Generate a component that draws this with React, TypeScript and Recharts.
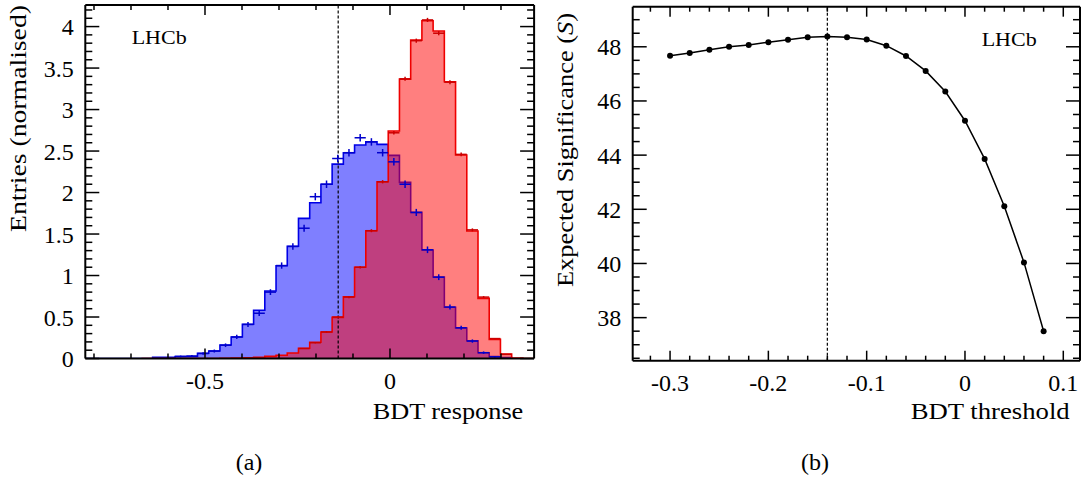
import React from 'react';
import { ComposedChart, Area, Scatter, ErrorBar, Line, XAxis, YAxis, ReferenceLine } from 'recharts';

const FONT = "'Liberation Serif', 'Times New Roman', serif";
const INK = '#000';

// ---------------- panel (a): BDT response ----------------
const histMin = -0.8235;
const histMax = 0.3895;
const histYMax = 4.26;
const cutValue = -0.14;

// training-sample histograms (normalised), 40 bins
const backgroundHist = [
  0, 0, 0, 0, 0, 0, 0.015, 0.015, 0.025, 0.025,
  0.063, 0.09, 0.163, 0.259, 0.412, 0.581, 0.813, 1.118, 1.352, 1.689,
  1.877, 2.099, 2.343, 2.48, 2.572, 2.612, 2.581, 2.448, 2.123, 1.761,
  1.307, 0.982, 0.617, 0.367, 0.214, 0.07, 0.022, 0.012, 0, null,
];
const signalHist = [
  null, null, null, null, null, 0, 0, 0, 0, 0,
  0, 0, 0.003, 0.005, 0.008, 0.015, 0.026, 0.04, 0.066, 0.123,
  0.195, 0.319, 0.496, 0.745, 1.099, 1.54, 2.13, 2.741, 3.367, 3.837,
  4.07, 3.946, 3.335, 2.452, 1.536, 0.725, 0.231, 0.054, 0.004, 0,
];
// test-sample points (crosses)
const backgroundTest = [
  null, null, null, null, null, null, null, null, 0.025, 0.03,
  0.06, 0.09, 0.16, 0.26, 0.41, 0.545, 0.8, 1.12, 1.35, 1.57,
  1.95, 2.1, 2.41, 2.48, 2.66, 2.61, 2.48, 2.37, 2.1, 1.76,
  1.31, 0.98, 0.62, 0.37, 0.21, 0.07, 0.02, null, null, null,
];
const backgroundTestErr = [
  0, 0, 0, 0, 0, 0, 0, 0, 0.01, 0.012,
  0.015, 0.018, 0.022, 0.025, 0.03, 0.032, 0.035, 0.038, 0.04, 0.042,
  0.044, 0.045, 0.045, 0.045, 0.045, 0.045, 0.045, 0.045, 0.045, 0.043,
  0.04, 0.035, 0.03, 0.025, 0.02, 0.015, 0.01, 0, 0, 0,
];
const signalTest = [
  null, null, null, null, null, null, null, null, null, null,
  null, null, null, null, null, null, null, null, null, 0.12,
  0.19, 0.32, 0.5, 0.74, 1.1, 1.54, 2.13, 2.72, 3.37, 3.83,
  4.08, 3.92, 3.33, 2.46, 1.55, 0.74, 0.24, 0.05, null, null,
];
const signalTestErr = [
  0, 0, 0, 0, 0, 0, 0, 0, 0, 0,
  0, 0, 0, 0, 0, 0, 0, 0, 0, 0.006,
  0.008, 0.01, 0.012, 0.014, 0.016, 0.018, 0.02, 0.022, 0.024, 0.025,
  0.025, 0.025, 0.024, 0.022, 0.018, 0.012, 0.008, 0.005, 0, 0,
];
const aXMajor = [-0.5, 0];
const aYMajor = [0, 0.5, 1, 1.5, 2, 2.5, 3, 3.5, 4];

// ---------------- panel (b): significance scan ----------------
const thresholds = [-0.3, -0.28, -0.26, -0.24, -0.22, -0.2, -0.18, -0.16, -0.14, -0.12,
  -0.1, -0.08, -0.06, -0.04, -0.02, 0, 0.02, 0.04, 0.06, 0.08];
const significance = [47.67, 47.77, 47.89, 48.0, 48.07, 48.17, 48.26, 48.35, 48.38, 48.35,
  48.27, 48.04, 47.66, 47.11, 46.35, 45.27, 43.86, 42.11, 40.04, 37.5];
const bXDomain = [-0.338, 0.117];
const bYDomain = [36.41, 49.48];
const bXMajor = [-0.3, -0.2, -0.1, 0, 0.1];
const bYMajor = [38, 40, 42, 44, 46, 48];

// ---------------- helpers ----------------
const range = (start: number, end: number, step: number) => {
  const out: number[] = [];
  const n = Math.round((end - start) / step);
  for (let k = 0; k <= n; k++) out.push(Math.round((start + k * step) * 1e6) / 1e6);
  return out;
};
const aXTicks = range(-0.8, 0.3, 0.1);
const aYTicks = range(0, 4.2, 0.1);
const bXTicks = range(-0.32, 0.1, 0.02);
const bYTicks = range(36.5, 49, 0.5);

const nBins = backgroundHist.length;
const binWidth = (histMax - histMin) / nBins;
const histRows = Array.from({ length: nBins + 1 }, (_, i) => {
  const j = Math.min(i, nBins - 1);
  return { x: histMin + i * binWidth, bkg: backgroundHist[j], sig: signalHist[j] };
});
const crossRows = (vals: (number | null)[], errs: number[]) =>
  vals
    .map((v, i) => (v == null ? null : { x: histMin + (i + 0.5) * binWidth, y: v, xerr: binWidth / 2, yerr: errs[i] }))
    .filter(Boolean) as any[];
const bkgCrosses = crossRows(backgroundTest, backgroundTestErr);
const sigCrosses = crossRows(signalTest, signalTestErr);
const scanRows = thresholds.map((t, i) => ({ thr: t, sig: significance[i] }));

const fmt = (v: number) => String(parseFloat(v.toFixed(2)));

type Side = 'bottom' | 'top' | 'left' | 'right';
const makeTick = (side: Side, majors: number[], majorLen: number, minorLen: number, labels: boolean) =>
  (props: any) => {
    const { x, y, payload } = props;
    const v = payload.value as number;
    const isMajor = majors.some((m) => Math.abs(m - v) < 1e-6);
    const len = isMajor ? majorLen : minorLen;
    let x2 = x;
    let y2 = y;
    if (side === 'bottom') y2 = y - len;
    if (side === 'top') y2 = y + len;
    if (side === 'left') x2 = x + len;
    if (side === 'right') x2 = x - len;
    let label = null;
    if (labels && isMajor) {
      if (side === 'bottom')
        label = (
          <text x={x} y={y + 30.5} textAnchor="middle" style={{ fontFamily: FONT }} fontSize={24} fill={INK}>
            {fmt(v)}
          </text>
        );
      if (side === 'left')
        label = (
          <text x={x - 11.5} y={y + 8.5} textAnchor="end" style={{ fontFamily: FONT }} fontSize={24} fill={INK}>
            {fmt(v)}
          </text>
        );
    }
    return (
      <g>
        <line x1={x} y1={y} x2={x2} y2={y2} stroke={INK} strokeWidth={1.5} />
        {label}
      </g>
    );
  };

const axisLine = { stroke: INK, strokeWidth: 2 };
const commonAxis = {
  type: 'number' as const,
  allowDataOverflow: true,
  tickLine: false,
  tickSize: 0,
  tickMargin: 0,
  interval: 0 as const,
  axisLine,
};

function PanelA() {
  return (
    <ComposedChart width={545} height={480} data={histRows}
      margin={{ top: 4, right: 9.9, bottom: 120.5, left: 84.3 }}>
      <Area xAxisId="b" yAxisId="l" type="stepAfter" dataKey="bkg" stroke="#0000e6" strokeWidth={1.6}
        fill="#0000ff" fillOpacity={0.5} isAnimationActive={false} dot={false} activeDot={false} />
      <Area xAxisId="b" yAxisId="l" type="stepAfter" dataKey="sig" stroke="#ee0000" strokeWidth={1.6}
        fill="#ff0000" fillOpacity={0.5} isAnimationActive={false} dot={false} activeDot={false} />
      <ReferenceLine xAxisId="b" yAxisId="l" x={cutValue} stroke={INK} strokeWidth={1.2} strokeDasharray="3 2" />
      <Scatter xAxisId="b" yAxisId="l" data={bkgCrosses} dataKey="y" isAnimationActive={false} shape={() => <g />}>
        <ErrorBar dataKey="xerr" direction="x" width={0} stroke="#0000cc" strokeWidth={1.5} isAnimationActive={false} />
        <ErrorBar dataKey="yerr" direction="y" width={0} stroke="#0000cc" strokeWidth={1.5} isAnimationActive={false} />
      </Scatter>
      <Scatter xAxisId="b" yAxisId="l" data={sigCrosses} dataKey="y" isAnimationActive={false} shape={() => <g />}>
        <ErrorBar dataKey="xerr" direction="x" width={0} stroke="#cc0000" strokeWidth={1.5} isAnimationActive={false} />
        <ErrorBar dataKey="yerr" direction="y" width={0} stroke="#cc0000" strokeWidth={1.5} isAnimationActive={false} />
      </Scatter>
      <XAxis xAxisId="b" dataKey="x" orientation="bottom" domain={[histMin, histMax]} ticks={aXTicks}
        height={1} tick={makeTick('bottom', aXMajor, 10, 5, true)} {...commonAxis} />
      <XAxis xAxisId="t" dataKey="x" orientation="top" domain={[histMin, histMax]} ticks={aXTicks}
        height={1} tick={makeTick('top', aXMajor, 10, 5, false)} {...commonAxis} />
      <YAxis yAxisId="l" orientation="left" domain={[0, histYMax]} ticks={aYTicks}
        width={1} tick={makeTick('left', aYMajor, 14, 7, true)} {...commonAxis} />
      <YAxis yAxisId="r" orientation="right" domain={[0, histYMax]} ticks={aYTicks}
        width={1} tick={makeTick('right', aYMajor, 14, 7, false)} {...commonAxis} />
    </ComposedChart>
  );
}

function PanelB() {
  return (
    <ComposedChart width={539} height={480} data={scanRows}
      margin={{ top: 5.7, right: 3, bottom: 118.3, left: 86.7 }}>
      <ReferenceLine xAxisId="b" yAxisId="l" x={cutValue} stroke={INK} strokeWidth={1.2} strokeDasharray="3 2" />
      <Line xAxisId="b" yAxisId="l" type="linear" dataKey="sig" stroke={INK} strokeWidth={1.5}
        dot={{ r: 3, fill: INK, stroke: INK, strokeWidth: 0 }} activeDot={false} isAnimationActive={false} />
      <XAxis xAxisId="b" dataKey="thr" orientation="bottom" domain={bXDomain} ticks={bXTicks}
        height={1} tick={makeTick('bottom', bXMajor, 10, 5, true)} {...commonAxis} />
      <XAxis xAxisId="t" dataKey="thr" orientation="top" domain={bXDomain} ticks={bXTicks}
        height={1} tick={makeTick('top', bXMajor, 10, 5, false)} {...commonAxis} />
      <YAxis yAxisId="l" orientation="left" domain={bYDomain} ticks={bYTicks}
        width={1} tick={makeTick('left', bYMajor, 14, 7, true)} {...commonAxis} />
      <YAxis yAxisId="r" orientation="right" domain={bYDomain} ticks={bYTicks}
        width={1} tick={makeTick('right', bYMajor, 14, 7, false)} {...commonAxis} />
    </ComposedChart>
  );
}

export default function App() {
  const t = { fontFamily: FONT };
  return (
    <div style={{ position: 'absolute', left: 0, top: 0, width: 1084, height: 480, background: '#fff' }}>
      <div style={{ position: 'absolute', left: 0, top: 0 }}>
        <PanelA />
      </div>
      <div style={{ position: 'absolute', left: 545, top: 0 }}>
        <PanelB />
      </div>
      <svg width={1084} height={480} style={{ position: 'absolute', left: 0, top: 0, pointerEvents: 'none' }}
        fill={INK}>
        <text style={t} x={131.7} y={43.5} fontSize={19} textLength={55} lengthAdjust="spacingAndGlyphs">LHCb</text>
        <text style={t} x={981.7} y={45.7} fontSize={19} textLength={55} lengthAdjust="spacingAndGlyphs">LHCb</text>
        <text style={t} x={372.7} y={419} fontSize={24} textLength={150.6} lengthAdjust="spacingAndGlyphs">BDT response</text>
        <text style={t} x={910.7} y={419.3} fontSize={24} textLength={159} lengthAdjust="spacingAndGlyphs">BDT threshold</text>
        <text style={t} transform="rotate(-90)" x={-232} y={26} fontSize={24} textLength={227} lengthAdjust="spacingAndGlyphs">
          Entries (normalised)
        </text>
        <text style={t} transform="rotate(-90)" x={-287} y={573.3} fontSize={24} textLength={274} lengthAdjust="spacingAndGlyphs">
          Expected Significance (<tspan fontStyle="italic">S</tspan>)
        </text>
        <text style={t} x={249} y={470} fontSize={24} textAnchor="middle">(a)</text>
        <text style={t} x={815} y={470} fontSize={24} textAnchor="middle">(b)</text>
      </svg>
    </div>
  );
}
